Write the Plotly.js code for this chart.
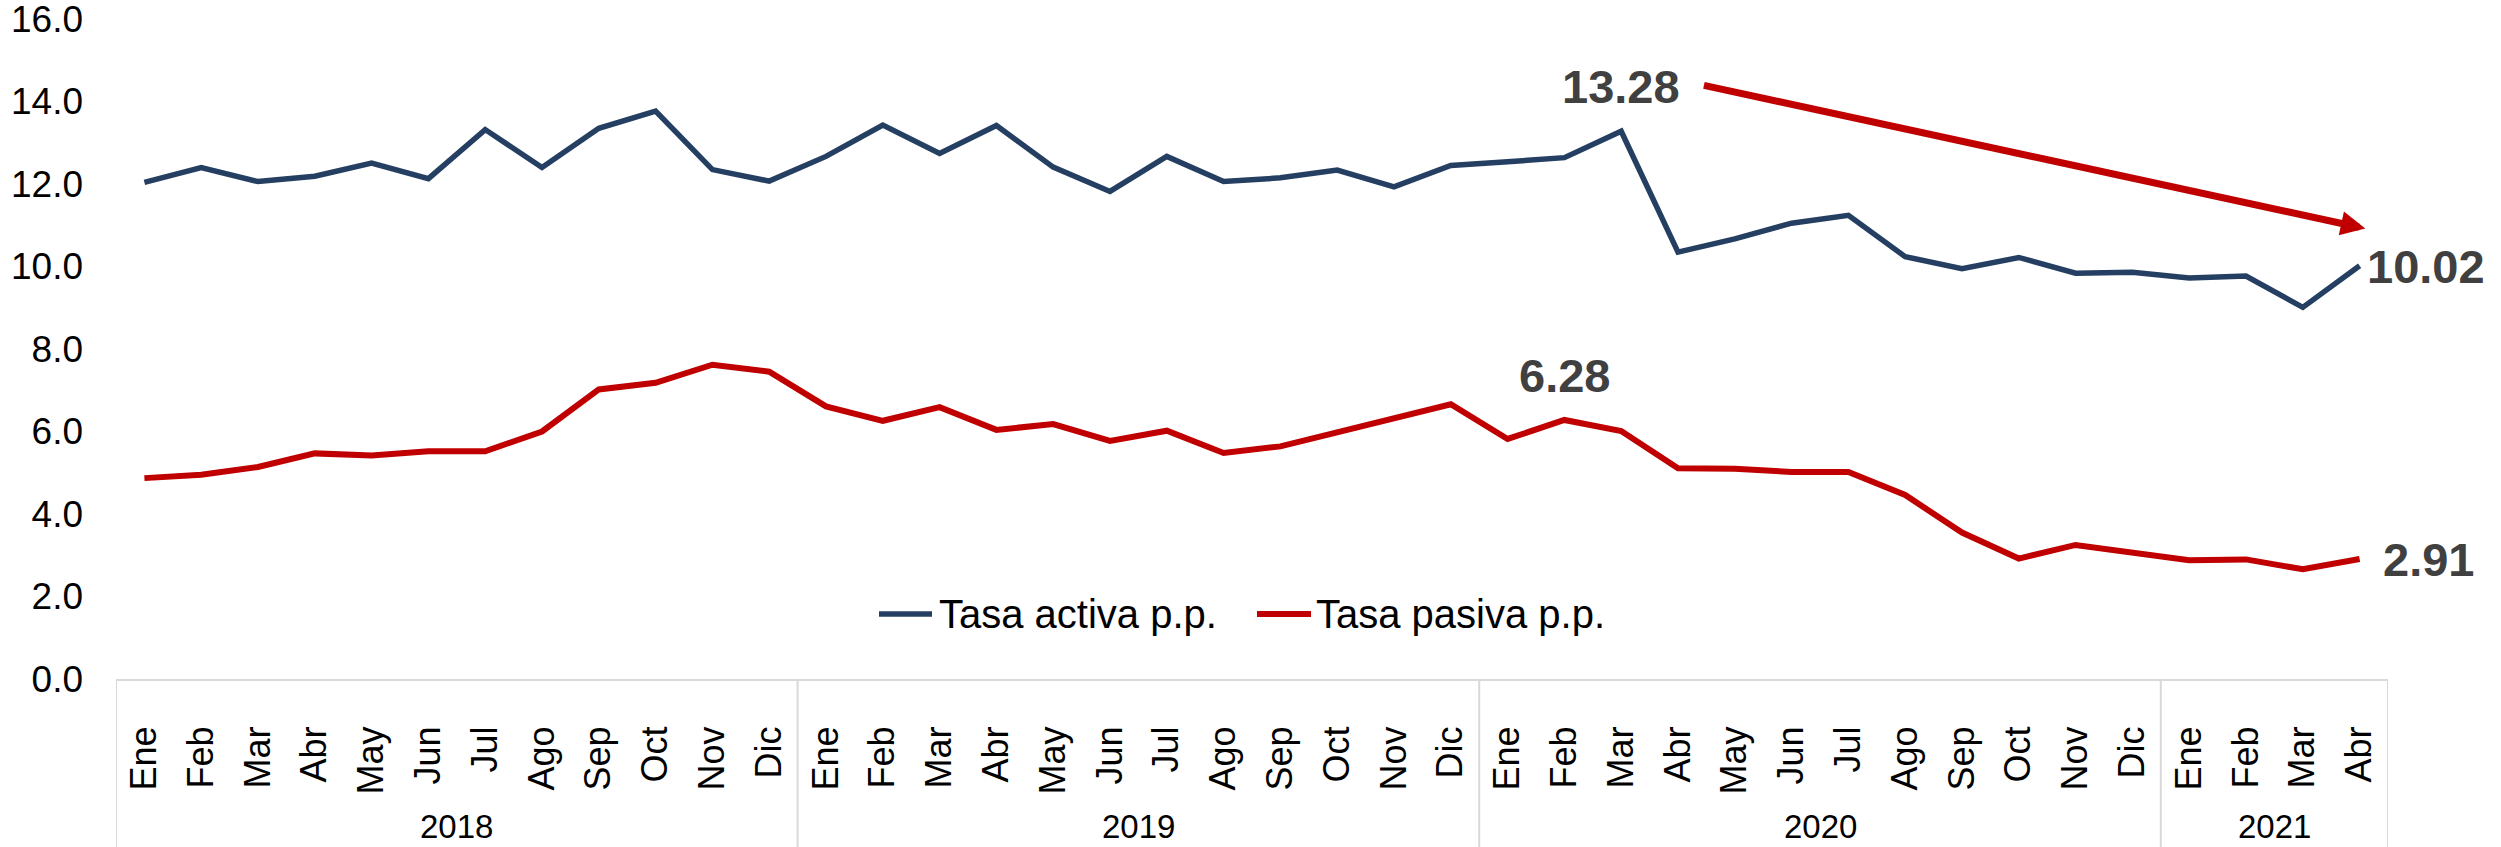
<!DOCTYPE html>
<html>
<head>
<meta charset="utf-8">
<script src="https://cdn.plot.ly/plotly-3.0.1.min.js"></script>
<style>
  html, body { margin: 0; padding: 0; background: #ffffff; }
  #chart { width: 2501px; height: 847px; }
</style>
</head>
<body>
<div id="chart"></div>
<script>
// ---- Data ----
const years = ["2018", "2019", "2020", "2021"];
const monthsPerYear = [12, 12, 12, 4];
const monthNames = ["Ene", "Feb", "Mar", "Abr", "May", "Jun", "Jul", "Ago", "Sep", "Oct", "Nov", "Dic"];

const seriesNames = ["Tasa activa p.p.", "Tasa pasiva p.p."];

const tasaActiva = [
  12.04, 12.40, 12.06, 12.19, 12.51, 12.13, 13.32, 12.40, 13.35, 13.77, 12.35, 12.07,
  12.67, 13.43, 12.74, 13.42, 12.41, 11.82, 12.67, 12.06, 12.15, 12.34, 11.93, 12.45,
  12.54, 12.64, 13.28, 10.35, 10.67, 11.05, 11.24, 10.24, 9.95, 10.22, 9.84, 9.86,
  9.72, 9.77, 9.01, 10.02
];
const tasaPasiva = [
  4.87, 4.95, 5.14, 5.47, 5.42, 5.52, 5.52, 6.00, 7.02, 7.18, 7.62, 7.45,
  6.61, 6.26, 6.59, 6.04, 6.18, 5.77, 6.02, 5.48, 5.64, 5.99, 6.32, 6.66,
  5.82, 6.28, 6.01, 5.11, 5.10, 5.02, 5.02, 4.46, 3.55, 2.92, 3.25, 3.07,
  2.88, 2.90, 2.66, 2.91
];

const yTicks = [0, 2, 4, 6, 8, 10, 12, 14, 16];

// highlighted points (indices into the series)
const peakActivaIdx = 26;   // Mar 2020
const peakPasivaIdx = 25;   // Feb 2020

// ---- Build categories ----
const monthLabels = [];
const yearCenters = [];
const dividers = [-0.5];
let start = 0;
years.forEach((y, i) => {
  const n = monthsPerYear[i];
  for (let k = 0; k < n; k++) monthLabels.push(monthNames[k]);
  yearCenters.push(start + (n - 1) / 2);
  start += n;
  dividers.push(start - 0.5);
});
const xIdx = monthLabels.map((_, i) => i);
const lastIdx = xIdx.length - 1;

const BLUE = "#253f62";
const RED = "#c00000";
const FONT = "Liberation Sans, Arial, sans-serif";
const LABEL = "#404040";

const traces = [
  { x: xIdx, y: tasaActiva, name: seriesNames[0], type: "scatter", mode: "lines",
    line: { color: BLUE, width: 5.5 }, showlegend: false, hoverinfo: "skip" },
  { x: xIdx, y: tasaPasiva, name: seriesNames[1], type: "scatter", mode: "lines",
    line: { color: RED, width: 6 }, showlegend: false, hoverinfo: "skip" }
];

// ---- plot geometry (px) ----
const W = 2501, H = 847;
const M = { l: 116, r: 113, t: 19, b: 168 };
const plotW = W - M.l - M.r, plotH = H - M.t - M.b;
const px2paperX = p => (p - M.l) / plotW;
const px2paperY = p => (H - M.b - p) / plotH;

const shapes = [];
dividers.forEach(d => {
  shapes.push({ type: "line", xref: "x", yref: "paper", x0: d, x1: d, y0: 0, y1: -0.3,
    line: { color: "#d9d9d9", width: 2 } });
});

// custom legend
const legY = px2paperY(614);
const legendItems = [
  { color: BLUE, width: 5.5, x0: 879, x1: 932, tx: 937, name: seriesNames[0] },
  { color: RED, width: 6, x0: 1257, x1: 1311, tx: 1314, name: seriesNames[1] }
];
const annotations = [];
legendItems.forEach(it => {
  shapes.push({ type: "line", xref: "paper", yref: "paper", x0: px2paperX(it.x0), x1: px2paperX(it.x1),
    y0: legY, y1: legY, line: { color: it.color, width: it.width } });
  annotations.push({ xref: "paper", yref: "paper", x: px2paperX(it.tx), y: legY, xanchor: "left", yanchor: "middle",
    text: it.name, showarrow: false, font: { family: FONT, size: 40, color: "#000000" } });
});

// year labels
years.forEach((y, i) => {
  annotations.push({ xref: "x", yref: "paper", x: yearCenters[i], y: 0, yshift: -147,
    xanchor: "center", yanchor: "middle", text: y, showarrow: false,
    font: { family: FONT, size: 33, color: "#000000" } });
});

// value labels
const valFont = { family: FONT, size: 47, color: LABEL };
annotations.push({ xref: "x", yref: "y", x: peakActivaIdx, y: tasaActiva[peakActivaIdx], yshift: 45,
  text: "<b>" + tasaActiva[peakActivaIdx].toFixed(2) + "</b>", showarrow: false,
  xanchor: "center", yanchor: "middle", font: valFont });
annotations.push({ xref: "x", yref: "y", x: peakPasivaIdx, y: tasaPasiva[peakPasivaIdx], yshift: 44,
  text: "<b>" + tasaPasiva[peakPasivaIdx].toFixed(2) + "</b>", showarrow: false,
  xanchor: "center", yanchor: "middle", font: valFont });
annotations.push({ xref: "x", yref: "y", x: lastIdx, y: tasaActiva[lastIdx], xshift: 5, yshift: -1,
  text: "<b>" + tasaActiva[lastIdx].toFixed(2) + "</b>", showarrow: false,
  xanchor: "left", yanchor: "middle", font: valFont });
annotations.push({ xref: "x", yref: "y", x: lastIdx, y: tasaPasiva[lastIdx], xshift: 21, yshift: -1,
  text: "<b>" + tasaPasiva[lastIdx].toFixed(2) + "</b>", showarrow: false,
  xanchor: "left", yanchor: "middle", font: valFont });

// trend arrow
annotations.push({ xref: "x", yref: "y", axref: "x", ayref: "y",
  x: 39.1, y: 10.92, ax: 27.43, ay: 14.40,
  text: "", showarrow: true, arrowhead: 2, arrowsize: 0.7, arrowwidth: 7, arrowcolor: RED, standoff: 0 });

const layout = {
  width: W, height: H,
  margin: M,
  paper_bgcolor: "#ffffff", plot_bgcolor: "#ffffff",
  font: { family: FONT, color: "#000000" },
  showlegend: false,
  xaxis: {
    range: [-0.5, lastIdx + 0.5],
    tickmode: "array", tickvals: xIdx, ticktext: monthLabels,
    tickangle: -90, tickfont: { family: FONT, size: 36, color: "#000000" },
    ticks: "", ticklabelstandoff: 31,
    showline: true, linecolor: "#d9d9d9", linewidth: 2,
    showgrid: false, zeroline: false, automargin: false, fixedrange: true
  },
  yaxis: {
    range: [0, 16.001], tickmode: "array", tickvals: yTicks,
    ticktext: yTicks.map(v => v.toFixed(1)),
    tickfont: { family: FONT, size: 37, color: "#000000" },
    ticks: "", ticklabelstandoff: 32, ticklabeloverflow: "allow",
    showline: false, showgrid: false, zeroline: false, automargin: false, fixedrange: true
  },
  shapes: shapes,
  annotations: annotations
};

Plotly.newPlot("chart", traces, layout, { staticPlot: true, displayModeBar: false });
</script>
</body>
</html>
